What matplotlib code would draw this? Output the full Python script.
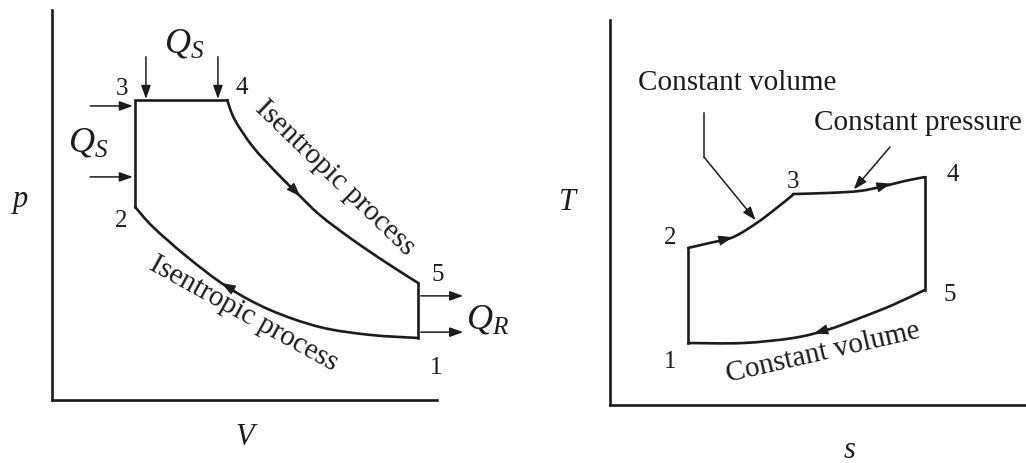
import numpy as np
import matplotlib
matplotlib.use("Agg")
import matplotlib.pyplot as plt
from matplotlib.path import Path
from matplotlib.patches import PathPatch

plt.rcParams['font.family'] = ['Liberation Serif', 'DejaVu Serif']
plt.rcParams['mathtext.fontset'] = 'custom'
plt.rcParams['mathtext.it'] = 'Liberation Serif:italic'
plt.rcParams['mathtext.rm'] = 'Liberation Serif'

INK = '#1c1c1c'
LW = 1.9

# ---- p-V diagram (dual cycle), state points 1..5 ----
V_state = [9.51, 2.16, 2.16, 4.55, 9.51]
p_state = [1.59, 4.95, 7.69, 7.69, 3.00]
# isentropic expansion 4 -> 5
V_exp = [4.55, 4.75, 5.22, 5.84, 6.36, 6.96, 7.82, 8.70, 9.51]
p_exp = [7.69, 7.18, 6.49, 5.82, 5.31, 4.74, 4.10, 3.51, 3.00]
# isentropic compression 1 -> 2 (listed from 2 to 1)
V_cmp = [2.16, 2.62, 3.51, 4.55, 5.66, 6.96, 8.26, 9.51]
p_cmp = [4.95, 4.44, 3.67, 2.90, 2.31, 1.87, 1.67, 1.59]

# ---- T-s diagram, state points 1..5 ----
s_state = [1.88, 1.88, 4.40, 7.57, 7.57]
T_state = [1.61, 4.08, 5.46, 5.92, 2.99]
s_23 = [1.88, 2.40, 2.96, 3.53, 4.01, 4.40]
T_23 = [4.08, 4.21, 4.36, 4.73, 5.12, 5.46]
s_34 = [4.40, 5.29, 6.01, 6.61, 7.09, 7.57]
T_34 = [5.48, 5.51, 5.56, 5.69, 5.82, 5.92]
s_51 = [7.57, 6.80, 6.01, 5.22, 4.40, 3.20, 1.88]
T_51 = [2.99, 2.60, 2.26, 1.95, 1.74, 1.61, 1.61]

state_labels = ['1', '2', '3', '4', '5']


def smooth(xs, ys):
    pts = np.column_stack([xs, ys]).astype(float)
    verts = [pts[0]]
    codes = [Path.MOVETO]
    n = len(pts)
    for i in range(n - 1):
        p0 = pts[i - 1] if i > 0 else pts[i]
        p1, p2 = pts[i], pts[i + 1]
        p3 = pts[i + 2] if i + 2 < n else pts[i + 1]
        verts += [p1 + (p2 - p0) / 6, p2 - (p3 - p1) / 6, p2]
        codes += [Path.CURVE4] * 3
    return Path(verts, codes)


def curve(ax, xs, ys):
    ax.add_patch(PathPatch(smooth(xs, ys), fill=False, lw=LW, ec=INK,
                           capstyle='round', joinstyle='round'))


def head(ax, tail, tip, ms=16):
    ax.annotate('', xy=tip, xytext=tail, annotation_clip=False,
                arrowprops=dict(arrowstyle='-|>,head_length=0.55,head_width=0.2',
                                color=INK, lw=0.8, shrinkA=0, shrinkB=0,
                                mutation_scale=ms, clip_on=False))


def heat(ax, tail, tip):
    ax.annotate('', xy=tip, xytext=tail, annotation_clip=False,
                arrowprops=dict(arrowstyle='-|>,head_length=0.5,head_width=0.18',
                                color=INK, lw=1.1, shrinkA=0, shrinkB=0,
                                mutation_scale=16, clip_on=False))


def frame(ax):
    for sp in ['top', 'right']:
        ax.spines[sp].set_visible(False)
    for sp in ['left', 'bottom']:
        ax.spines[sp].set_linewidth(LW)
        ax.spines[sp].set_color(INK)
    ax.set_xticks([])
    ax.set_yticks([])
    ax.set_xlim(0, 10)
    ax.set_ylim(0, 10)
    ax.patch.set_alpha(0)


fig = plt.figure(figsize=(10.26, 4.63), dpi=100)

# ================= p-V =================
ax1 = fig.add_axes([52 / 1026, 63 / 463, 385 / 1026, 390 / 463])
frame(ax1)
curve(ax1, V_exp, p_exp)
curve(ax1, V_cmp, p_cmp)
ax1.plot([V_state[1], V_state[2], V_state[3]],
         [p_state[1], p_state[2], p_state[3]], color=INK, lw=LW,
         solid_joinstyle='miter')
ax1.plot([V_state[4], V_state[0]], [p_state[4], p_state[0]], color=INK, lw=LW)

head(ax1, (6.0, 5.68), (6.45, 5.22))
head(ax1, (4.75, 2.80), (4.40, 3.00))

lab_V = [9.97, 1.79, 1.82, 4.94, 10.02]
lab_p = [0.82, 4.59, 7.98, 8.0, 3.21]
for t, x, y in zip(state_labels, lab_V, lab_p):
    ax1.text(x, y, t, fontsize=18, ha='center', va='center', color=INK, clip_on=False)

# heat supplied / rejected arrows
heat(ax1, (2.44, 8.80), (2.44, 7.72))
heat(ax1, (4.31, 8.80), (4.31, 7.72))
heat(ax1, (0.99, 7.54), (2.10, 7.54))
heat(ax1, (0.99, 5.72), (2.10, 5.72))
heat(ax1, (9.58, 2.67), (10.68, 2.67))
heat(ax1, (9.58, 1.74), (10.68, 1.74))
ax1.text(3.43, 9.13, r'$Q_S$', fontsize=26, ha='center', va='center', color=INK, clip_on=False)
ax1.text(0.93, 6.59, r'$Q_S$', fontsize=26, ha='center', va='center', color=INK, clip_on=False)
ax1.text(11.30, 2.05, r'$Q_R$', fontsize=26, ha='center', va='center', color=INK, clip_on=False)

ax1.text(7.34, 5.70, 'Isentropic process', fontsize=21, rotation=-44,
         ha='center', va='center', color=INK, rotation_mode='anchor')
ax1.text(4.98, 2.20, 'Isentropic process', fontsize=21, rotation=-29,
         ha='center', va='center', color=INK, rotation_mode='anchor')

ax1.text(-0.83, 5.13, 'p', fontsize=22, style='italic', ha='center', va='center', color=INK, clip_on=False)
ax1.text(5.01, -0.97, 'V', fontsize=22, style='italic', ha='center', va='center', color=INK, clip_on=False)

# ================= T-s =================
ax2 = fig.add_axes([610 / 1026, 58 / 463, 416 / 1026, 385 / 463])
frame(ax2)
curve(ax2, s_23, T_23)
curve(ax2, s_34, T_34)
curve(ax2, s_51, T_51)
ax2.plot([s_state[0], s_state[1]], [T_state[0], T_state[1]], color=INK, lw=LW)
ax2.plot([s_state[3], s_state[4]], [T_state[3], T_state[4]], color=INK, lw=LW)

head(ax2, (2.45, 4.22), (2.95, 4.36))
head(ax2, (6.20, 5.59), (6.75, 5.75))
head(ax2, (5.40, 2.02), (4.90, 1.86))

lab_s = [1.44, 1.44, 4.40, 8.25, 8.17]
lab_T = [1.12, 4.34, 5.79, 5.97, 2.86]
for t, x, y in zip(state_labels, lab_s, lab_T):
    ax2.text(x, y, t, fontsize=18, ha='center', va='center', color=INK, clip_on=False)

# leader lines
ax2.plot([2.26, 2.26], [7.58, 6.44], color=INK, lw=1.1)
heat(ax2, (2.26, 6.44), (3.50, 4.80))
heat(ax2, (6.73, 6.70), (5.86, 5.60))
ax2.text(3.05, 8.36, 'Constant volume', fontsize=21, ha='center', va='center', color=INK)
ax2.text(7.40, 7.32, 'Constant pressure', fontsize=21, ha='center', va='center',
         color=INK, clip_on=False)
ax2.text(5.12, 1.36, 'Constant volume', fontsize=21, rotation=13,
         ha='center', va='center', color=INK, rotation_mode='anchor')

ax2.text(-1.01, 5.25, 'T', fontsize=22, style='italic', ha='center', va='center', color=INK, clip_on=False)
ax2.text(5.77, -1.17, 's', fontsize=22, style='italic', ha='center', va='center', color=INK, clip_on=False)

fig.savefig('out.png', dpi=100)
